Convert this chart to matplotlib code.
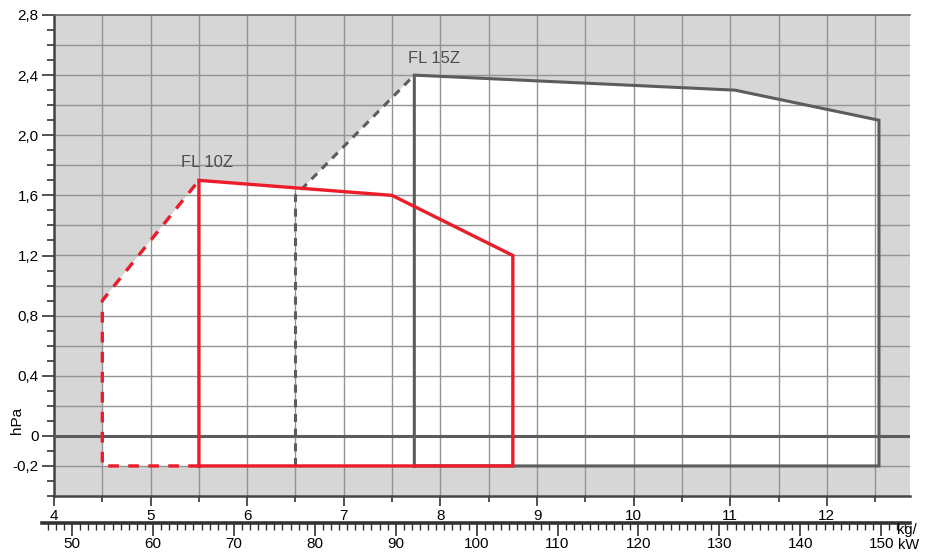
import matplotlib
matplotlib.use('Agg')
import matplotlib.pyplot as plt
import numpy as np
from matplotlib.ticker import MultipleLocator, FixedLocator, FuncFormatter

plt.rcParams['font.family'] = ['Liberation Sans', 'DejaVu Sans']

# firing range envelopes (kg/h, hPa)
fl10_solid_x = [5.5, 5.5, 7.5, 8.75, 8.75, 5.5]
fl10_solid_y = [-0.2, 1.7, 1.6, 1.2, -0.2, -0.2]
fl10_dash_x = [5.5, 4.5, 4.5, 5.5]
fl10_dash_y = [-0.2, -0.2, 0.9, 1.7]

fl15_solid_x = [7.73, 7.73, 11.05, 12.54, 12.54, 7.73]
fl15_solid_y = [-0.2, 2.4, 2.3, 2.1, -0.2, -0.2]
fl15_dash_x = [6.5, 6.5, 7.73]
fl15_dash_y = [-0.2, 1.6, 2.4]

y_ticks = [-0.2, 0, 0.4, 0.8, 1.2, 1.6, 2.0, 2.4, 2.8]
kw_per_kg = 11.94

red = '#ec1c2a'
dark = '#5c5c5c'
bg = '#d6d6d6'
grid_color = '#939393'

fig = plt.figure(figsize=(9.27, 5.53), dpi=100)
W, H = 927, 553
ax_left, ax_right, ax_top, ax_bottom = 54, 910, 15, 496
ax = fig.add_axes([ax_left / W, 1 - ax_bottom / H,
                   (ax_right - ax_left) / W, (ax_bottom - ax_top) / H])
xmin, xmax = 4, 4 + (ax_right - ax_left) / 96.6
ax.set_xlim(xmin, xmax)
ax.set_ylim(-0.4, 2.8)
ax.set_facecolor(bg)

# white working area
ax.fill(fl10_dash_x[1:] + fl10_solid_x[2:5], fl10_dash_y[1:] + fl10_solid_y[2:5],
        color='white', lw=0, zorder=0.1)
ax.fill(fl15_dash_x + fl15_solid_x[2:5], fl15_dash_y + fl15_solid_y[2:5],
        color='white', lw=0, zorder=0.1)

ax.set_axisbelow(True)
ax.xaxis.set_major_locator(MultipleLocator(1))
ax.xaxis.set_minor_locator(MultipleLocator(0.5))
ax.yaxis.set_major_locator(FixedLocator(y_ticks))
ax.yaxis.set_minor_locator(MultipleLocator(0.1))
ax.grid(True, which='major', axis='x', color=grid_color, lw=1)
ax.grid(True, which='minor', axis='x', color=grid_color, lw=1)
for yv in np.arange(-0.2, 2.8, 0.2):
    ax.axhline(yv, color=grid_color, lw=1, zorder=0.5)

ax.yaxis.set_major_formatter(FuncFormatter(
    lambda v, p: '0' if abs(v) < 1e-9 else f'{v:.1f}'.replace('.', ',')))
ax.tick_params(axis='both', which='major', length=7, width=1.2, color='#333333',
               labelsize=11, pad=2)
ax.tick_params(axis='both', which='minor', length=4, width=1.2, color='#333333')
ax.tick_params(axis='y', which='major', length=9)
ax.tick_params(axis='y', which='minor', length=5)

for s in ['left', 'bottom']:
    ax.spines[s].set_color('#444444')
    ax.spines[s].set_linewidth(1.8)
ax.spines['top'].set_color('#666666')
ax.spines['top'].set_linewidth(1.2)
ax.spines['right'].set_visible(False)

ax.axhline(0, color=dark, lw=2.2, zorder=3)

ax.plot(fl15_dash_x, fl15_dash_y, color=dark, lw=2.2, dashes=(2.6, 2.2), zorder=4)
ax.plot(fl15_solid_x, fl15_solid_y, color=dark, lw=2.2, zorder=4,
        solid_joinstyle='miter')
ax.plot(fl10_dash_x, fl10_dash_y, color=red, lw=2.4, dashes=(3.2, 2.8), zorder=5)
ax.plot(fl10_solid_x, fl10_solid_y, color=red, lw=2.4, zorder=5,
        solid_joinstyle='miter')

ax.text(5.58, 1.82, 'FL 10Z', color='#4d4d4d', fontsize=12, ha='center', va='center')
ax.text(7.93, 2.51, 'FL 15Z', color='#4d4d4d', fontsize=12, ha='center', va='center')

# secondary kW scale
kw_left, kw_y = 42, 523
ax2 = fig.add_axes([kw_left / W, 1 - kw_y / H, (ax_right - kw_left) / W, 0.0001])
span = (xmax - xmin) / (ax_right - ax_left)
ax2.set_xlim((xmin + (kw_left - ax_left) * span) * kw_per_kg, xmax * kw_per_kg)
ax2.set_ylim(0, 1)
ax2.patch.set_visible(False)
for s in ['left', 'right', 'top']:
    ax2.spines[s].set_visible(False)
ax2.spines['bottom'].set_color('#333333')
ax2.spines['bottom'].set_linewidth(2.6)
ax2.set_yticks([])
ax2.xaxis.set_major_locator(MultipleLocator(10))
ax2.xaxis.set_minor_locator(MultipleLocator(1))
ax2.tick_params(axis='x', which='major', length=9, width=1.2, color='#333333',
                labelsize=11, pad=1)
ax2.tick_params(axis='x', which='minor', length=5, width=1, color='#333333')

fig.text(17 / W, 1 - 420 / H, 'hPa', rotation=90, fontsize=11, ha='center', va='center')
fig.text(897 / W, 1 - 537 / H, 'kg/', fontsize=10.5, ha='left', va='bottom')
fig.text(898 / W, 1 - 538 / H, 'kW', fontsize=10.5, ha='left', va='top')

fig.savefig('out.png', dpi=100)
